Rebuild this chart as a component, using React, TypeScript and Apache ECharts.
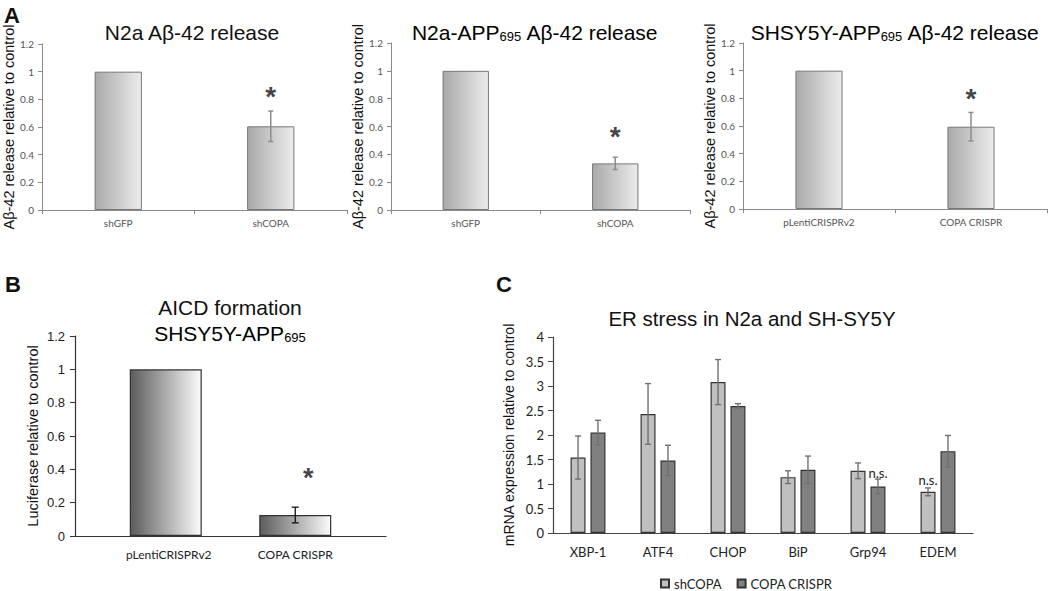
import React, { useEffect, useRef } from "react";
import * as echarts from "echarts";

// ---------- data ----------
const A1_CATS = ["shGFP", "shCOPA"];
const A1_VALS = [1, 0.605];
const A1_ERR = [0, 0.11];
const A1_STAR = [null, 0.88];

const A2_CATS = ["shGFP", "shCOPA"];
const A2_VALS = [1, 0.335];
const A2_ERR = [0, 0.044];
const A2_STAR = [null, 0.587];

const A3_CATS = ["pLentiCRISPRv2", "COPA CRISPR"];
const A3_VALS = [1, 0.595];
const A3_ERR = [0, 0.103];
const A3_STAR = [null, 0.86];

const B_CATS = ["pLentiCRISPRv2", "COPA CRISPR"];
const B_VALS = [1, 0.126];
const B_ERR = [0, 0.047];
const B_STAR = [null, 0.396];

const C_CATS = ["XBP-1", "ATF4", "CHOP", "BiP", "Grp94", "EDEM"];
const C_SH = [1.54, 2.43, 3.08, 1.14, 1.27, 0.84];
const C_SH_ERR = [0.44, 0.62, 0.46, 0.13, 0.16, 0.08];
const C_SH_NS = [false, false, false, false, false, true];
const C_CR = [2.05, 1.48, 2.59, 1.29, 0.95, 1.67];
const C_CR_ERR = [0.25, 0.31, 0.05, 0.28, 0.15, 0.32];
const C_CR_NS = [false, false, false, false, true, false];

const A_TICKS = { min: 0, max: 1.2, interval: 0.2 };
const C_TICKS = { min: 0, max: 4, interval: 0.5 };

// ---------- styles ----------
const SANS = '"Liberation Sans", Arial, sans-serif';
const CAL = 'Lato, "Open Sans", sans-serif';

const gradA = () =>
  new echarts.graphic.LinearGradient(0, 0, 1, 0, [
    { offset: 0, color: "#a9a9a9" },
    { offset: 1, color: "#ececec" },
  ]);
const gradB = () =>
  new echarts.graphic.LinearGradient(0, 0, 1, 0, [
    { offset: 0, color: "#5c5c5c" },
    { offset: 1, color: "#fbfbfb" },
  ]);

function errSeries(
  idx: number,
  data: number[][],
  color: string,
  cap: number,
  lw: number,
  offsetFn: (band: number, row: number[]) => number
) {
  return {
    type: "custom",
    xAxisIndex: idx,
    yAxisIndex: idx,
    z: 5,
    silent: true,
    data,
    renderItem: (params: any, api: any) => {
      const i = api.value(0);
      const v = api.value(1);
      const e = api.value(2);
      const top = api.coord([i, v + e]);
      const bot = api.coord([i, v - e]);
      const band = api.size([1, 0])[0];
      const x = top[0] + offsetFn(band, data[params.dataIndex]);
      const st = { stroke: color, lineWidth: lw };
      return {
        type: "group",
        children: [
          { type: "line", shape: { x1: x, y1: top[1], x2: x, y2: bot[1] }, style: st },
          { type: "line", shape: { x1: x - cap / 2, y1: top[1], x2: x + cap / 2, y2: top[1] }, style: st },
          { type: "line", shape: { x1: x - cap / 2, y1: bot[1], x2: x + cap / 2, y2: bot[1] }, style: st },
        ],
      };
    },
  };
}

function errData(vals: number[], errs: number[]) {
  return vals.map((v, i) => [i, v, errs[i]]).filter((d) => d[2] > 0);
}

function starSeries(idx: number, stars: (number | null)[], dy: number, size: number) {
  return {
    type: "scatter",
    xAxisIndex: idx,
    yAxisIndex: idx,
    symbolSize: 1,
    itemStyle: { color: "rgba(0,0,0,0)" },
    silent: true,
    z: 6,
    data: stars.map((s, i) => (s == null ? null : [i, s])).filter((d) => d),
    label: {
      show: true,
      position: "inside",
      formatter: "*",
      fontFamily: SANS,
      fontWeight: "bold",
      fontSize: size,
      color: "#111",
      offset: [0, dy],
    },
  };
}

function aAxes(idx: number, cats: string[], name: string, nameGap: number) {
  const line = { show: true, lineStyle: { color: "#8a8a8a", width: 1 } };
  return {
    x: {
      type: "category",
      gridIndex: idx,
      data: cats,
      axisLine: line,
      axisTick: { show: true, length: 4, lineStyle: { color: "#8a8a8a" } },
      axisLabel: { fontFamily: CAL, fontSize: 10, color: "#555", margin: 8 },
    },
    y: {
      type: "value",
      gridIndex: idx,
      ...A_TICKS,
      splitLine: { show: false },
      axisLine: line,
      axisTick: { show: true, length: 4, lineStyle: { color: "#8a8a8a" } },
      axisLabel: { fontFamily: CAL, fontSize: 10, color: "#555", margin: 8 },
      name,
      nameLocation: "middle",
      nameGap,
      nameTextStyle: { fontFamily: SANS, fontSize: 14.5, color: "#111" },
    },
  };
}

function aBars(idx: number, name: string, vals: number[]) {
  return {
    type: "bar",
    name,
    xAxisIndex: idx,
    yAxisIndex: idx,
    barWidth: "31%",
    data: vals,
    itemStyle: { color: gradA(), borderColor: "#777", borderWidth: 1 },
  };
}

export default function App() {
  const ref = useRef<HTMLDivElement>(null);

  useEffect(() => {
    if (!ref.current) return;
    const chart = echarts.init(ref.current, undefined, { renderer: "svg" });

    const a1 = aAxes(0, A1_CATS, "Aβ-42 release relative to control", 22);
    const a2 = aAxes(1, A2_CATS, "Aβ-42 release relative to control", 21);
    const a3 = aAxes(2, A3_CATS, "Aβ-42 release relative to control", 23);

    const B_BW = 72;
    const B_SHIFT = 13;
    const bGap = -(B_BW - 2 * B_SHIFT); // px gap so each bar is shifted by B_SHIFT

    const cBW = 0.214;
    const cGap = 0.33;
    const cOff = (band: number) => (band * cBW * (1 + cGap)) / 2;

    const titleStyle = { fontFamily: SANS, fontSize: 21, fill: "#111" };
    const rich = {
      t: { fontFamily: SANS, fontSize: 21, color: "#111", verticalAlign: "bottom" },
      s: { fontFamily: SANS, fontSize: 13, color: "#111", verticalAlign: "bottom" },
    };

    const option: any = {
      animation: false,
      backgroundColor: "#fff",
      grid: [
        { left: 42, top: 44, width: 305, height: 166 },
        { left: 391, top: 43, width: 299, height: 167 },
        { left: 743, top: 43, width: 304, height: 166 },
        { left: 75, top: 336, width: 311, height: 200 },
        { left: 553, top: 337, width: 420, height: 196 },
      ],
      xAxis: [
        a1.x,
        a2.x,
        a3.x,
        {
          type: "category",
          gridIndex: 3,
          data: B_CATS,
          axisLine: { lineStyle: { color: "#333", width: 1.2 } },
          axisTick: { length: 5, lineStyle: { color: "#333" } },
          axisLabel: {
            margin: 12,
            formatter: (v: string, i: number) => (i === 0 ? `{r|${v}}` : `{l|${v}}`),
            rich: {
              r: { fontFamily: CAL, fontSize: 12, color: "#222", padding: [0, 0, 0, 2 * B_SHIFT + 6] },
              l: { fontFamily: CAL, fontSize: 12, color: "#222", padding: [0, 2 * B_SHIFT, 0, 0] },
            },
          },
        },
        {
          type: "category",
          gridIndex: 4,
          data: C_CATS,
          axisLine: { lineStyle: { color: "#444", width: 1.2 } },
          axisTick: { length: 5, lineStyle: { color: "#444" } },
          axisLabel: { fontFamily: CAL, fontSize: 13, color: "#222", margin: 12 },
        },
      ],
      yAxis: [
        a1.y,
        a2.y,
        a3.y,
        {
          type: "value",
          gridIndex: 3,
          ...A_TICKS,
          splitLine: { show: false },
          axisLine: { show: true, lineStyle: { color: "#333", width: 1.2 } },
          axisTick: { show: true, length: 5, lineStyle: { color: "#333" } },
          axisLabel: { fontFamily: SANS, fontSize: 13, color: "#222", margin: 10 },
          name: "Luciferase relative to control",
          nameLocation: "middle",
          nameGap: 35,
          nameTextStyle: { fontFamily: SANS, fontSize: 14.5, color: "#111" },
        },
        {
          type: "value",
          gridIndex: 4,
          ...C_TICKS,
          splitLine: { show: false },
          axisLine: { show: true, lineStyle: { color: "#444", width: 1.2 } },
          axisTick: { show: true, length: 5, lineStyle: { color: "#444" } },
          axisLabel: { fontFamily: CAL, fontSize: 13, color: "#222", margin: 9 },
          name: "mRNA expression relative to control",
          nameLocation: "middle",
          nameGap: 37,
          nameTextStyle: { fontFamily: SANS, fontSize: 14, color: "#111" },
        },
      ],
      legend: {
        data: ["shCOPA", "COPA CRISPR"],
        left: 660,
        top: 577,
        padding: 0,
        icon: "rect",
        itemWidth: 8,
        itemHeight: 8,
        itemGap: 15,
        textStyle: { fontFamily: CAL, fontSize: 13, color: "#222" },
      },
      series: [
        aBars(0, "A1", A1_VALS),
        aBars(1, "A2", A2_VALS),
        aBars(2, "A3", A3_VALS),
        errSeries(0, errData(A1_VALS, A1_ERR), "#8c8c8c", 5, 1.5, () => 0),
        errSeries(1, errData(A2_VALS, A2_ERR), "#8c8c8c", 5, 1.5, () => 0),
        errSeries(2, errData(A3_VALS, A3_ERR), "#8c8c8c", 5, 1.5, () => 0),
        starSeries(0, A1_STAR, 8, 28),
        starSeries(1, A2_STAR, 8, 28),
        starSeries(2, A3_STAR, 8, 28),
        // Panel B: two slots so bars sit off-centre as in the original figure
        {
          type: "bar",
          name: "B-right",
          xAxisIndex: 3,
          yAxisIndex: 3,
          barWidth: B_BW,
          barGap: `${(bGap / B_BW) * 100}%`,
          data: B_VALS.map((v, i) => (i === 1 ? v : "-")),
          itemStyle: { color: gradB(), borderColor: "#333", borderWidth: 1.2 },
        },
        {
          type: "bar",
          name: "B-left",
          xAxisIndex: 3,
          yAxisIndex: 3,
          barWidth: B_BW,
          data: B_VALS.map((v, i) => (i === 0 ? v : "-")),
          itemStyle: { color: gradB(), borderColor: "#333", borderWidth: 1.2 },
        },
        errSeries(3, errData(B_VALS, B_ERR), "#111", 7, 1.3, (_b, row) =>
          row[0] === 1 ? -B_SHIFT : B_SHIFT
        ),
        starSeries(3, B_STAR, 8, 27),
        // Panel C
        {
          type: "bar",
          name: "shCOPA",
          xAxisIndex: 4,
          yAxisIndex: 4,
          barWidth: `${cBW * 100}%`,
          barGap: `${cGap * 100}%`,
          data: C_SH.map((v, i) =>
            C_SH_NS[i]
              ? { value: v, label: { show: true, position: "top", distance: 5, formatter: "n.s." } }
              : v
          ),
          label: { fontFamily: CAL, fontSize: 13, color: "#222" },
          itemStyle: { color: "#c0c0c0", borderColor: "#333", borderWidth: 1.2 },
        },
        {
          type: "bar",
          name: "COPA CRISPR",
          xAxisIndex: 4,
          yAxisIndex: 4,
          barWidth: `${cBW * 100}%`,
          barGap: `${cGap * 100}%`,
          data: C_CR.map((v, i) =>
            C_CR_NS[i]
              ? { value: v, label: { show: true, position: "top", distance: 7, formatter: "n.s." } }
              : v
          ),
          label: { fontFamily: CAL, fontSize: 13, color: "#222" },
          itemStyle: { color: "#808080", borderColor: "#333", borderWidth: 1.2 },
        },
        errSeries(4, errData(C_SH, C_SH_ERR), "#707070", 6, 1.4, (band) => -cOff(band)),
        errSeries(4, errData(C_CR, C_CR_ERR), "#707070", 6, 1.4, (band) => cOff(band)),
      ],
      graphic: [
        { type: "text", left: 4, top: 4, style: { text: "A", font: `bold 22px ${SANS}`, fill: "#111" } },
        { type: "text", left: 5, top: 273, style: { text: "B", font: `bold 22px ${SANS}`, fill: "#111" } },
        { type: "text", left: 496, top: 273, style: { text: "C", font: `bold 22px ${SANS}`, fill: "#111" } },
        {
          type: "text",
          x: 192,
          y: 32,
          style: { ...titleStyle, text: "N2a Aβ-42 release", align: "center", verticalAlign: "middle" },
        },
        {
          type: "text",
          x: 535,
          y: 32,
          style: {
            text: "{t|N2a-APP}{s|695}{t| Aβ-42 release}",
            rich,
            align: "center",
            verticalAlign: "middle",
          },
        },
        {
          type: "text",
          x: 895,
          y: 32,
          style: {
            text: "{t|SHSY5Y-APP}{s|695}{t| Aβ-42 release}",
            rich,
            align: "center",
            verticalAlign: "middle",
          },
        },
        {
          type: "text",
          x: 230,
          y: 307,
          style: { ...titleStyle, text: "AICD formation", align: "center", verticalAlign: "middle" },
        },
        {
          type: "text",
          x: 230,
          y: 333,
          style: {
            text: "{t|SHSY5Y-APP}{s|695}",
            rich,
            align: "center",
            verticalAlign: "middle",
          },
        },
        {
          type: "text",
          x: 752,
          y: 318,
          style: {
            ...titleStyle,
            fontSize: 20.5,
            text: "ER stress in N2a and SH-SY5Y",
            align: "center",
            verticalAlign: "middle",
          },
        },
      ],
    };

    chart.setOption(option);
    return () => chart.dispose();
  }, []);

  return (
    <div
      ref={ref}
      style={{ position: "absolute", left: 0, top: 0, width: 1050, height: 591, background: "#fff" }}
    />
  );
}
